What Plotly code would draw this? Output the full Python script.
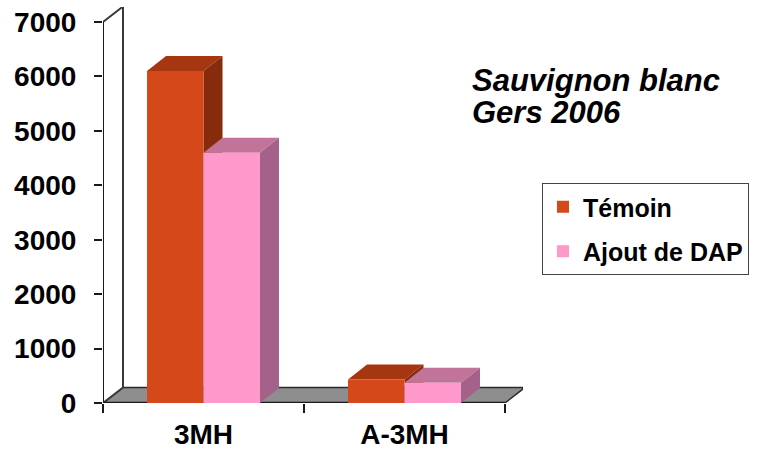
import plotly.graph_objects as go

# Thiol concentrations per compound
categories = ["3MH", "A-3MH"]
temoin = [6100, 430]
ajout_dap = [4600, 370]
series_names = ["Témoin", "Ajout de DAP"]
y_ticks = [0, 1000, 2000, 3000, 4000, 5000, 6000, 7000]

FONT = "Liberation Sans, Arial, sans-serif"

# Figure geometry (pixels)
W, H = 767, 452
L, R, T, B = 103, 244, 7, 49
plot_w = W - L - R
plot_h = H - T - B
x_min, x_cat_max = -0.5, 1.5
px_per_x = 201.0                      # pixels per category slot
x_max = x_min + plot_w / px_per_x
px_per_y = 381.0 / 7000.0             # pixels per unit of value
y_max = plot_h / px_per_y

# 3D depth offsets, pixels converted to data units
def dx(px):
    return px / px_per_x

def dy(px):
    return px / px_per_y

bar_dx, bar_dy = dx(19), dy(15)
wall_dx, wall_dy = dx(20), dy(15.5)

bargap = 0.438
bar_w = (1 - bargap) / 2
xs = list(range(len(categories)))

colors = {
    "Témoin": dict(front="#D4481A", top="#A5360F", side="#862B0B"),
    "Ajout de DAP": dict(front="#FF99CC", top="#C27399", side="#A4628A"),
}


def poly(points):
    return "M " + " L ".join(f"{x},{y}" for x, y in points) + " Z"


shapes = []

# Floor slab
shapes.append(dict(
    type="path", xref="x", yref="y", layer="below",
    path=poly([(x_min, 0), (x_cat_max, 0), (x_cat_max + wall_dx, wall_dy),
               (x_min + wall_dx, wall_dy)]),
    fillcolor="#8E8E8E", line=dict(color="#2b2b2b", width=1.5),
))
# Left side wall
shapes.append(dict(
    type="path", xref="x", yref="y", layer="below",
    path=poly([(x_min, 0), (x_min, 7000), (x_min + wall_dx, 7000 + wall_dy),
               (x_min + wall_dx, wall_dy)]),
    fillcolor="white", line=dict(color="#3a3a3a", width=2),
))
# Front edges of the axes frame
shapes.append(dict(type="line", xref="x", yref="y", layer="below",
                   x0=x_min, x1=x_min, y0=0, y1=7000,
                   line=dict(color="#1a1a1a", width=2)))
shapes.append(dict(type="line", xref="x", yref="y", layer="below",
                   x0=x_min, x1=x_cat_max, y0=0, y1=0,
                   line=dict(color="#1a1a1a", width=2.5)))

# Top and side faces of each bar, computed from the bar values
bar_faces = []
for ci, x in enumerate(xs):
    for si, (name, vals) in enumerate(zip(series_names, [temoin, ajout_dap])):
        v = vals[ci]
        xl = x - bar_w + si * bar_w
        xr = xl + bar_w
        c = colors[name]
        bar_faces.append(dict(
            type="path", xref="x", yref="y", layer="below",
            path=poly([(xl, v), (xr, v), (xr + bar_dx, v + bar_dy), (xl + bar_dx, v + bar_dy)]),
            fillcolor=c["top"], line=dict(width=0),
        ))
        bar_faces.append(dict(
            type="path", xref="x", yref="y", layer="below",
            path=poly([(xr, 0), (xr, v), (xr + bar_dx, v + bar_dy), (xr + bar_dx, bar_dy)]),
            fillcolor=c["side"], line=dict(width=0),
        ))
shapes.extend(bar_faces)

fig = go.Figure()
for si, (name, vals) in enumerate(zip(series_names, [temoin, ajout_dap])):
    fig.add_trace(go.Bar(
        x=xs, y=vals, name=name, legendgroup=name,
        marker=dict(color=colors[name]["front"], line=dict(width=0)),
    ))

fig.update_layout(
    width=W, height=H,
    margin=dict(l=L, r=R, t=T, b=B, pad=0, autoexpand=False),
    paper_bgcolor="white", plot_bgcolor="rgba(0,0,0,0)",
    barmode="group", bargap=bargap, bargroupgap=0,
    shapes=shapes,
    font=dict(family=FONT, color="black"),
    xaxis=dict(
        range=[x_min, x_max], showgrid=False, zeroline=False, showline=False,
        automargin=False,
        tickvals=xs, ticktext=categories, ticks="",
        tickfont=dict(family=FONT, size=28, weight="bold", color="black"),
        ticklabelstandoff=12,
        minor=dict(tickvals=[-0.5, 0.5, 1.5], ticks="outside", ticklen=9,
                   tickcolor="#1a1a1a", tickwidth=1.5),
    ),
    yaxis=dict(
        range=[0, y_max], showgrid=False, zeroline=False, showline=False,
        automargin=False,
        tickvals=y_ticks, ticks="outside", ticklen=8, tickcolor="#1a1a1a", tickwidth=1.5,
        tickfont=dict(family=FONT, size=28, weight="bold", color="black"),
        ticklabelstandoff=12,
    ),
    legend=dict(
        x=(542 - L) / plot_w, y=(H - B - 183) / plot_h, xanchor="left", yanchor="top",
        bordercolor="#444444", borderwidth=1, bgcolor="white",
        font=dict(family=FONT, size=25, weight="bold", color="black"),
        traceorder="grouped", tracegroupgap=9,
    ),
    showlegend=True,
)

for text, py in [("Sauvignon blanc", 80), ("Gers 2006", 113)]:
    fig.add_annotation(
        text=text, xref="paper", yref="paper",
        x=(470 - L) / plot_w, y=(H - B - py) / plot_h,
        xanchor="left", yanchor="middle", showarrow=False,
        font=dict(family=FONT, size=31, weight="bold", style="italic", color="black"),
    )

fig.write_html("out.html")
